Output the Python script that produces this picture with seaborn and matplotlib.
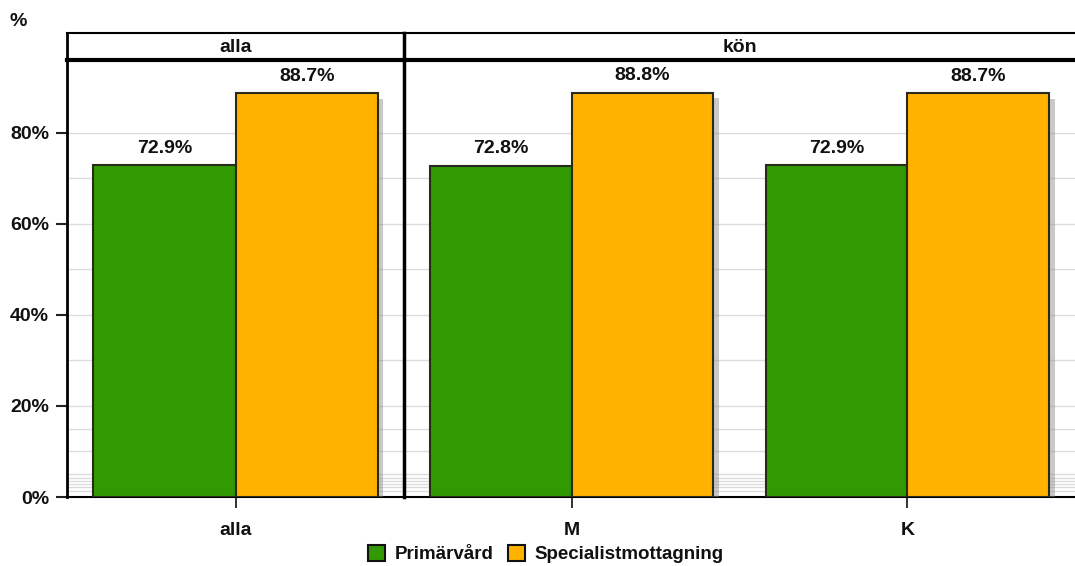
import pandas as pd
import matplotlib.pyplot as plt
import matplotlib.patheffects as pe
from matplotlib.patches import Patch
import seaborn as sns

# Chart data
panels = ['alla', 'kön']
panel_categories = [['alla'], ['M', 'K']]
series = ['Primärvård', 'Specialistmottagning']
primarvard = [72.9, 72.8, 72.9]
specialist = [88.7, 88.8, 88.7]
y_ticks = [0, 20, 40, 60, 80]
grid_levels = [1.4, 2.1, 2.8, 3.5, 4.2, 5, 10, 15, 20, 30, 40, 50, 60, 70, 80]
colors = ['#329903', '#ffb200']

# Build a long dataframe for seaborn
rows = []
i = 0
for panel, cats in zip(panels, panel_categories):
    for cat in cats:
        rows.append([panel, cat, series[0], primarvard[i]])
        rows.append([panel, cat, series[1], specialist[i]])
        i += 1
df = pd.DataFrame(rows, columns=['panel', 'category', 'series', 'value'])

sns.set_style('white')
plt.rcParams['font.family'] = ['Liberation Sans', 'DejaVu Sans']
plt.rcParams['font.weight'] = 'bold'
plt.rcParams['text.color'] = '#111111'
plt.rcParams['xtick.color'] = '#111111'
plt.rcParams['ytick.color'] = '#111111'
fs = 14

fig = plt.figure(figsize=(10.75, 5.66), dpi=100)

# Panel geometry (figure fractions)
left, right = 67 / 1075, 1075 / 1075
bottom, top = 1 - 497 / 566, 1 - 60 / 566
strip_h = 27 / 566
split = 404 / 1075

ax_l = fig.add_axes([left, bottom, split - left, top - bottom])
ax_r = fig.add_axes([split, bottom, right - split, top - bottom], sharey=ax_l)

for ax, panel, cats in zip([ax_l, ax_r], panels, panel_categories):
    sub = df[df['panel'] == panel]
    sns.barplot(data=sub, x='category', y='value', hue='series',
                order=cats, hue_order=series, palette=colors,
                width=0.845, edgecolor='#2a2a1a', linewidth=1.5,
                saturation=1, legend=False, ax=ax, zorder=3)

    # Shadow on the bars
    for patch in ax.patches:
        patch.set_path_effects([pe.SimplePatchShadow(offset=(4, -4), shadow_rgbFace='#888888', alpha=0.45),
                                pe.Normal()])

    # Value labels
    for cont in ax.containers:
        ax.bar_label(cont, fmt='%.1f%%', padding=6, fontsize=fs, fontweight='bold', color='#111111')

    # Light grid lines
    for g in grid_levels:
        ax.axhline(g, color='#dcdcdc', linewidth=1, zorder=0)

    ax.set_xlim(-0.5, len(cats) - 0.5)
    ax.set_ylim(0, 96)
    ax.set_xlabel('')
    ax.set_ylabel('')
    ax.tick_params(axis='x', length=8, width=1.3, color='#222222', pad=10, labelsize=fs, bottom=True)
    for s in ['top', 'right']:
        ax.spines[s].set_visible(False)
    ax.spines['bottom'].set_linewidth(1.5)
    ax.spines['bottom'].set_color('black')
    ax.spines['left'].set_color('black')

    # Strip header above the panel
    pos = ax.get_position()
    strip = fig.add_axes([pos.x0, pos.y1, pos.width, strip_h])
    strip.set_xticks([])
    strip.set_yticks([])
    for s in strip.spines.values():
        s.set_color('black')
        s.set_linewidth(1.5)
    strip.spines['bottom'].set_linewidth(3)
    strip.spines['left'].set_linewidth(2.5 if panel == 'kön' else 2)
    strip.spines['right'].set_visible(False)
    strip.text(0.5, 0.47, panel, ha='center', va='center', fontsize=fs, fontweight='bold',
               transform=strip.transAxes)

ax_l.spines['left'].set_linewidth(2)
ax_r.spines['left'].set_linewidth(2.5)
ax_l.set_yticks(y_ticks)
ax_l.set_yticklabels([f'{t}%' for t in y_ticks])
ax_l.tick_params(axis='y', length=8, width=1.5, color='#222222', pad=5, labelsize=fs, left=True)
ax_r.tick_params(axis='y', left=False, labelleft=False)

# Axis unit label
fig.text(18 / 1075, 1 - 21 / 566, '%', ha='center', va='center', fontsize=fs, fontweight='bold')

# Legend at the bottom
handles = [Patch(facecolor=c, edgecolor='#111111', linewidth=1.5) for c in colors]
fig.legend(handles, series, loc='lower center', bbox_to_anchor=(0.508, -0.025), ncol=2,
           frameon=False, fontsize=13.5, handlelength=0.9, handleheight=0.9,
           handletextpad=0.5, columnspacing=0.8)

fig.savefig('out.png', dpi=100)
